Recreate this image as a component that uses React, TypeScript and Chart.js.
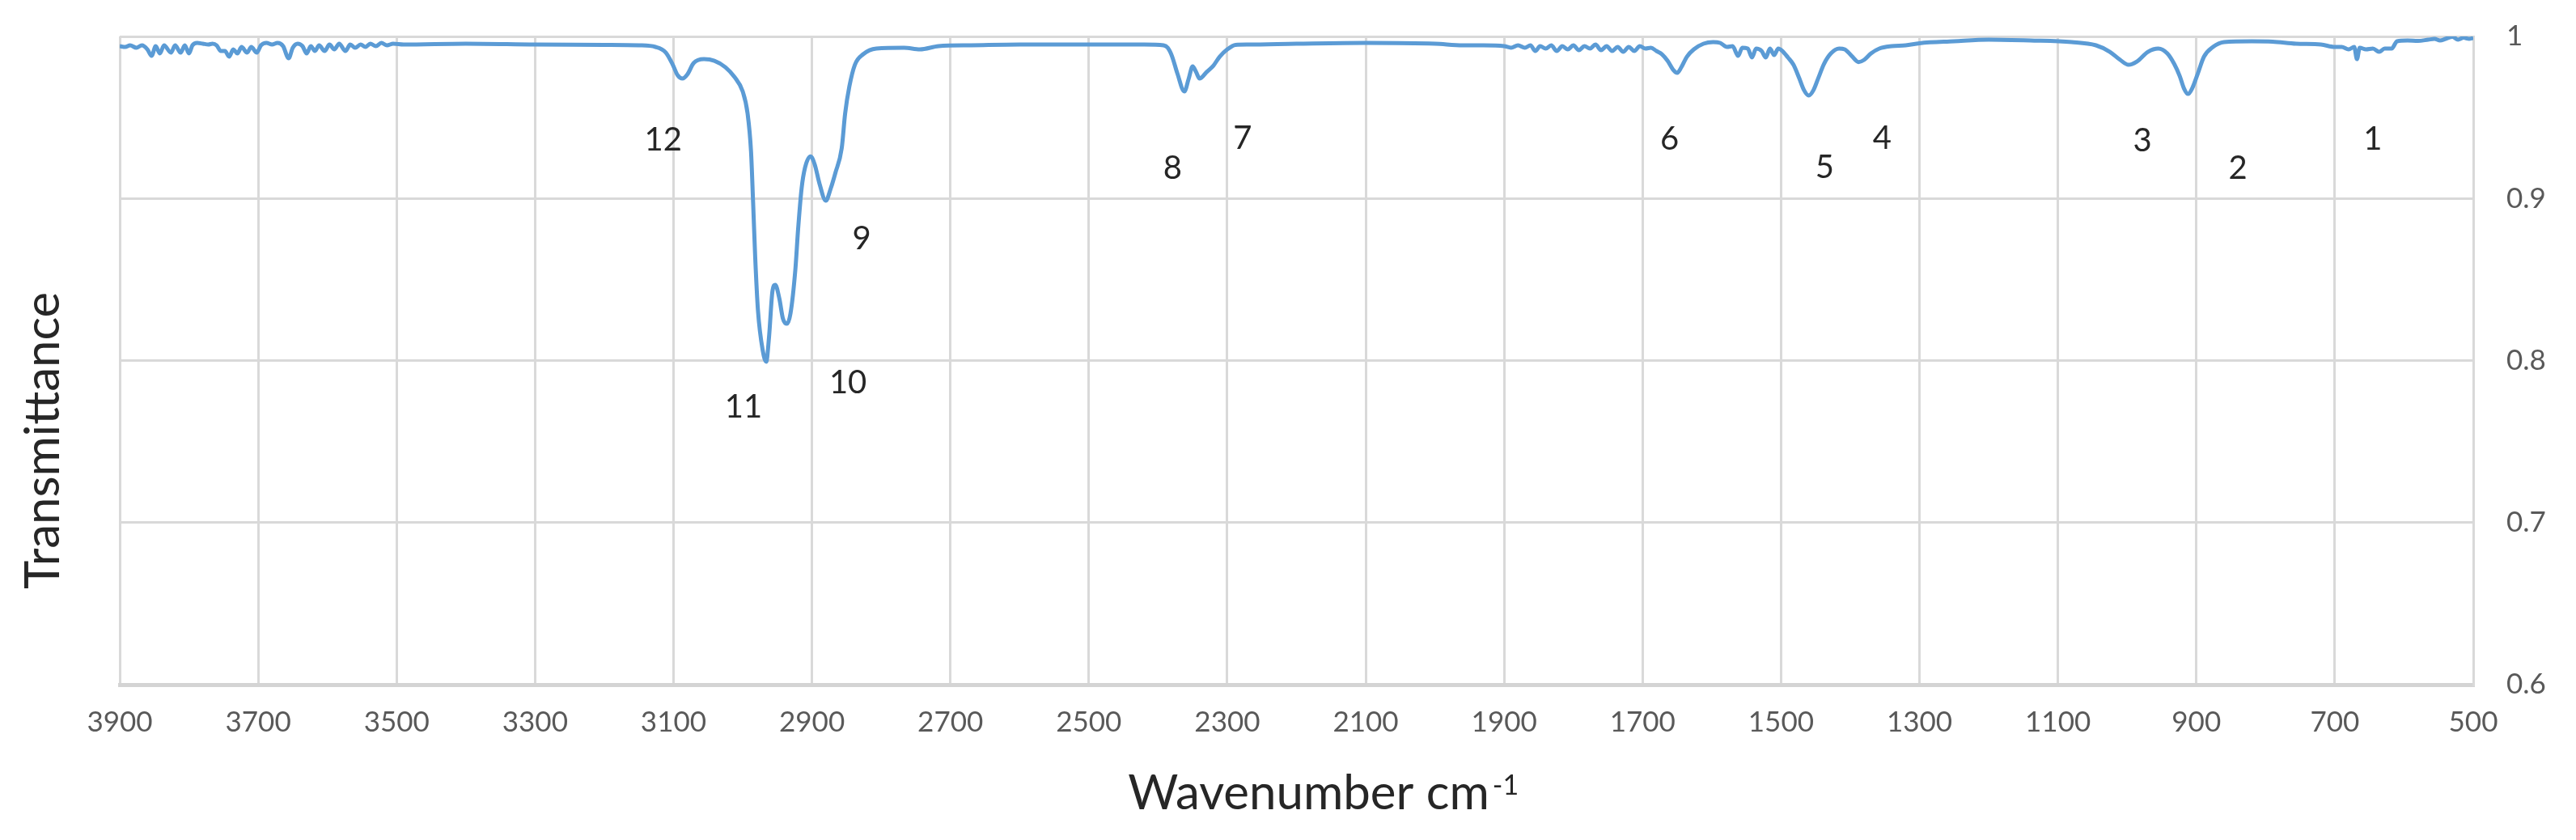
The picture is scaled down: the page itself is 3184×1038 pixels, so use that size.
import React, { useEffect, useRef } from "react";
import { Chart, registerables } from "chart.js";

Chart.register(...registerables);

const FONT = 'Lato, "Open Sans", "DejaVu Sans", sans-serif';

// Wavenumber (cm-1) values of the traced spectrum, high to low
const wavenumbers = [
  3900, 3892, 3885, 3876, 3868, 3860, 3854, 3848,
  3842, 3836, 3826, 3820, 3812, 3806, 3800, 3795,
  3788, 3780, 3772, 3766, 3760, 3754, 3748, 3742,
  3736, 3730, 3724, 3716, 3710, 3702, 3696, 3688,
  3680, 3672, 3664, 3656, 3650, 3643, 3636, 3630,
  3624, 3618, 3612, 3604, 3597, 3590, 3583, 3574,
  3567, 3560, 3552, 3545, 3538, 3530, 3522, 3514,
  3505, 3490,
  3400, 3300, 3200, 3150, 3126, 3111, 3101, 3094,
  3087, 3080, 3071, 3056, 3041, 3025, 3012, 3000,
  2993, 2988, 2985, 2982, 2978, 2971, 2966, 2962,
  2957, 2953, 2947, 2942, 2936, 2931, 2924, 2920,
  2915, 2910, 2902, 2896, 2889, 2880, 2873, 2866,
  2857, 2852, 2846, 2838, 2826, 2807, 2767, 2744,
  2717, 2670,
  2600, 2500, 2420, 2392, 2386, 2380, 2372, 2362,
  2356, 2350, 2345, 2340, 2330, 2320, 2311, 2300,
  2288, 2270, 2200, 2100, 2000, 1960, 1930, 1900,
  1890,
  1880, 1870, 1862, 1855, 1848, 1840, 1832, 1824,
  1816, 1808, 1800, 1792, 1784, 1776, 1768, 1760,
  1752, 1744, 1736, 1728, 1720, 1712, 1704, 1696,
  1688, 1680, 1672, 1664, 1656, 1650, 1644, 1636,
  1626, 1612, 1598, 1588, 1578, 1570, 1562, 1556,
  1548, 1542, 1536, 1528, 1522, 1516, 1510, 1504,
  1498,
  1490, 1482, 1474, 1467, 1460, 1453, 1446, 1438,
  1428, 1416, 1408, 1398, 1388, 1380, 1370, 1358,
  1340, 1320, 1300, 1250, 1200, 1140, 1080, 1045,
  1025, 1010, 998, 986, 970, 955, 942, 932,
  924, 918, 912, 906, 898, 889, 876, 860,
  820, 790, 756, 720, 700, 690, 680, 672,
  668, 664, 655, 645, 636, 628, 618, 610,
  595, 580, 565, 556, 548, 540, 530, 522,
  514, 506, 500,
];

// Transmittance at each wavenumber above
const transmittance = [
  0.994, 0.9935, 0.9945, 0.993, 0.9945, 0.992, 0.988, 0.994,
  0.9895, 0.9945, 0.99, 0.9945, 0.99, 0.9945, 0.9895, 0.9945,
  0.996, 0.9955, 0.995, 0.9955, 0.9945, 0.991, 0.991, 0.9875,
  0.992, 0.9895, 0.9935, 0.99, 0.9935, 0.99, 0.9945, 0.996,
  0.995, 0.996, 0.994, 0.9865, 0.993, 0.9955, 0.994, 0.9895,
  0.994, 0.991, 0.9945, 0.991, 0.995, 0.992, 0.9955, 0.991,
  0.995, 0.993, 0.995, 0.9935, 0.9955, 0.994, 0.996, 0.9945,
  0.9955, 0.995,
  0.9955, 0.995, 0.9948, 0.9945, 0.9935, 0.99, 0.9825, 0.976,
  0.974, 0.9765, 0.9835, 0.986, 0.985, 0.981, 0.975, 0.966,
  0.9525, 0.929, 0.8975, 0.864, 0.831, 0.806, 0.7993, 0.8145,
  0.843, 0.8467, 0.838, 0.826, 0.8227, 0.829, 0.856, 0.881,
  0.906, 0.919, 0.926, 0.921, 0.909, 0.8986, 0.906, 0.916,
  0.931, 0.9526, 0.969, 0.9825, 0.989, 0.9925, 0.993, 0.992,
  0.994, 0.9945,
  0.995, 0.995, 0.995, 0.9945, 0.993, 0.988, 0.977, 0.966,
  0.9735, 0.9815, 0.978, 0.974, 0.978, 0.982, 0.9875, 0.992,
  0.9948, 0.995, 0.9955, 0.996, 0.9955, 0.9945, 0.9945, 0.994,
  0.993,
  0.9945, 0.993, 0.9945, 0.991, 0.994, 0.9925, 0.9945, 0.991,
  0.994, 0.992, 0.9945, 0.9915, 0.994, 0.9925, 0.995, 0.9915,
  0.994, 0.991, 0.9935, 0.9905, 0.9935, 0.991, 0.994, 0.9925,
  0.993, 0.991, 0.989, 0.985, 0.9795, 0.9775, 0.981, 0.9875,
  0.992, 0.9955, 0.9965, 0.996, 0.9935, 0.994, 0.988, 0.993,
  0.9925, 0.987, 0.9925, 0.991, 0.987, 0.9925, 0.9885, 0.9925,
  0.991,
  0.987, 0.9825, 0.9745, 0.967, 0.9635, 0.967, 0.9745, 0.983,
  0.9895, 0.9925, 0.992, 0.988, 0.9842, 0.9855, 0.9895, 0.9925,
  0.994, 0.9945, 0.9958, 0.997, 0.998, 0.9975, 0.9965, 0.9945,
  0.9905, 0.9855, 0.9825, 0.9845, 0.9905, 0.9925, 0.9895, 0.983,
  0.9755, 0.968, 0.9645, 0.968, 0.977, 0.9875, 0.9935, 0.9965,
  0.997, 0.9968, 0.9955, 0.995, 0.9935, 0.9935, 0.992, 0.9935,
  0.986, 0.993, 0.992, 0.9925, 0.9905, 0.9925, 0.9925, 0.997,
  0.9975, 0.9972, 0.998, 0.9985, 0.9975, 0.9985, 0.9998, 0.998,
  0.9992, 0.9985, 0.999,
];

// Peak number annotations (text anchors in data coordinates)
const peakNames = ["1", "2", "3", "4", "5", "6", "7", "8", "9", "10", "11", "12"];
const peakLabelWn = [645, 840, 978, 1354, 1437, 1661, 2278, 2379, 2828, 2848, 2999, 3115];
const peakLabelT = [0.9366, 0.9186, 0.9356, 0.937, 0.919, 0.9366, 0.937, 0.9186, 0.875, 0.786, 0.771, 0.936];

const xMin = 500;
const xMax = 3900;
const xStep = 200;
const yMin = 0.6;
const yMax = 1;
const yStep = 0.1;

const xTitle = "Wavenumber cm";
const xTitleSup = "-1";
const yTitle = "Transmittance";

export default function App() {
  const ref = useRef<HTMLCanvasElement>(null);

  useEffect(() => {
    document.body.style.margin = "0";
    const canvas = ref.current;
    if (!canvas) return;

    const annotate = {
      id: "annotate",
      afterDraw(chart: any) {
        const ctx = chart.ctx as CanvasRenderingContext2D;
        const xs = chart.scales.x;
        const ys = chart.scales.y;
        ctx.save();
        // peak numbers
        ctx.fillStyle = "#262626";
        ctx.font = `40px ${FONT}`;
        ctx.textAlign = "center";
        ctx.textBaseline = "middle";
        peakNames.forEach((name, i) => {
          ctx.fillText(name, xs.getPixelForValue(peakLabelWn[i]), ys.getPixelForValue(peakLabelT[i]));
        });
        // x title with superscript
        ctx.textAlign = "left";
        ctx.textBaseline = "alphabetic";
        ctx.font = `60px ${FONT}`;
        const w = ctx.measureText(xTitle).width;
        const center = (chart.chartArea.left + chart.chartArea.right) / 2 + 15;
        const x0 = center - w / 2;
        ctx.fillText(xTitle, x0, 1000);
        ctx.font = `34px ${FONT}`;
        ctx.fillText(xTitleSup, x0 + w + 4, 982);
        // y title (left side)
        ctx.font = `60px ${FONT}`;
        ctx.translate(73, 728);
        ctx.rotate(-Math.PI / 2);
        ctx.fillText(yTitle, 0, 0);
        ctx.restore();
      },
    };

    const chart = new Chart(canvas, {
      type: "line",
      data: {
        datasets: [
          {
            data: wavenumbers.map((x, i) => ({ x, y: transmittance[i] })),
            borderColor: "#5B9BD5",
            borderWidth: 5,
            pointRadius: 0,
            cubicInterpolationMode: "monotone",
            fill: false,
          },
        ],
      },
      options: {
        animation: false,
        responsive: false,
        devicePixelRatio: 1,
        layout: { padding: { left: 148, top: 45, right: 0, bottom: 0 } },
        plugins: { legend: { display: false }, tooltip: { enabled: false } },
        scales: {
          x: {
            type: "linear",
            reverse: true,
            min: xMin,
            max: xMax,
            afterFit: (axis: any) => {
              axis.height = 1038 - 846;
              axis.paddingLeft = 0;
              axis.paddingRight = 0;
            },
            ticks: {
              stepSize: xStep,
              padding: 26,
              color: "#595959",
              font: { family: FONT, size: 35 },
              maxRotation: 0,
              autoSkip: false,
              callback: (v: any) => String(v),
            },
            grid: { color: "#d9d9d9", lineWidth: 3, drawTicks: false },
            border: { display: true, color: "#d4d4d4", width: 5 },
          },
          y: {
            type: "linear",
            position: "right",
            min: yMin,
            max: yMax,
            afterFit: (axis: any) => {
              axis.width = 3184 - 3057;
              axis.paddingTop = 0;
              axis.paddingBottom = 0;
            },
            ticks: {
              stepSize: yStep,
              padding: 41,
              color: "#595959",
              font: { family: FONT, size: 35 },
              callback: (v: any) => String(Number(Number(v).toFixed(1))),
            },
            grid: { color: "#d9d9d9", lineWidth: 3, drawTicks: false },
            border: { display: true, color: "#d9d9d9", width: 3 },
          },
        },
      },
      plugins: [annotate],
    } as any);

    return () => chart.destroy();
  }, []);

  return (
    <div style={{ width: 3184, height: 1038, position: "relative", background: "#fff" }}>
      <canvas ref={ref} width={3184} height={1038} style={{ display: "block", width: 3184, height: 1038 }} />
    </div>
  );
}
